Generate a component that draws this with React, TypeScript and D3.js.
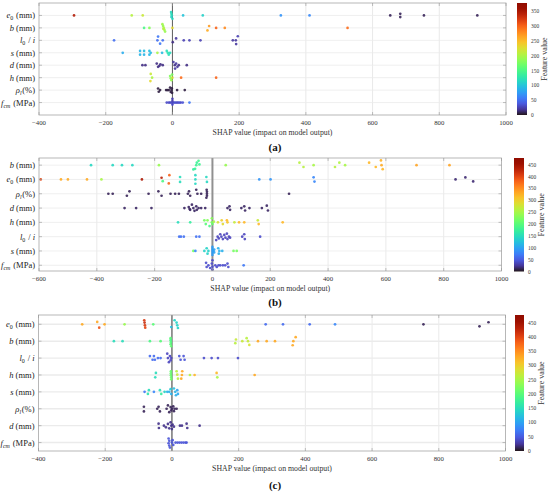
import React from "react";
import * as d3 from "d3";

type Pt = [number, number, number]; // [shap, feature value, vertical jitter in row units]

// ---- panel (a) ----
const aE0: Pt[] = [
  [-295, 345, 0], [-122, 205, 0], [-89, 215, 0],
  [-4, 115, -0.27], [-3, 120, -0.13], [-2, 118, 0], [-3, 112, 0.13], [0, 115, 0.27],
  [32, 100, 0], [91, 110, 0], [325, 70, 0], [411, 65, 0],
  [653, 8, 0], [683, 8, -0.13], [683, 8, 0.13], [754, 8, 0], [914, 8, 0],
];
const aB: Pt[] = [
  [-85, 150, 0], [-69, 180, 0],
  [-30, 195, -0.3], [-28, 190, -0.15], [-26, 200, 0], [-24, 195, 0.15], [-22, 190, 0.3], [-27, 205, 0.08],
  [0, 230, 0], [105, 260, 0.2], [110, 270, -0.15], [131, 300, 0], [157, 280, 0], [525, 295, 0],
];
const aL0i: Pt[] = [
  [-175, 50, 0], [-43, 55, -0.3], [-45, 50, 0], [-29, 50, 0], [-37, 55, 0.27],
  [1, 15, 0.15], [11, 20, -0.15], [34, 25, 0], [51, 25, 0], [84, 25, 0],
  [181, 20, 0], [190, 20, 0], [196, 25, -0.33], [191, 20, 0.3],
];
const aS: Pt[] = [
  [-149, 85, 0], [-97, 90, -0.15], [-97, 90, 0.15], [-85, 95, -0.15], [-85, 90, 0.15],
  [-69, 95, -0.15], [-65, 95, 0], [-69, 90, 0.15], [-45, 200, 0], [-31, 95, 0],
  [-17, 120, -0.15], [-14, 125, 0], [-11, 120, 0.15], [-7, 118, 0],
];
const aD: Pt[] = [
  [-90, 15, 0], [-81, 15, 0], [-47, 15, -0.13], [-43, 15, 0.13], [-36, 15, -0.08], [-39, 15, 0.05],
  [-29, 15, 0], [3, 20, -0.25], [7, 15, 0], [11, 20, -0.13], [15, 20, 0.13], [19, 15, 0],
  [8, 20, 0.27], [43, 15, 0],
];
const aH: Pt[] = [
  [-65, 215, -0.3], [-61, 200, 0], [-66, 230, 0.27],
  [-7, 180, -0.13], [-5, 185, 0.05], [-3, 190, 0.2], [-1, 175, -0.25], [0, 220, 0],
  [26, 295, 0], [131, 300, 0],
];
const aRho: Pt[] = [
  [-43, 5, -0.13], [-37, 5, 0], [-41, 5, 0.13], [-19, 5, 0], [-15, 5, 0], [-11, 5, 0],
  [-7, 5, -0.2], [-5, 5, 0.15], [-3, 5, 0], [-2, 5, -0.15], [-1, 5, 0.22], [14, 5, 0], [37, 5, 0],
];
const aFcm: Pt[] = [
  [-17, 30, 0], [-11, 30, 0], [-7, 30, 0], [-3, 30, 0], [1, 30, 0], [5, 30, 0], [9, 35, 0],
  [13, 30, 0], [17, 30, 0], [21, 35, 0], [25, 30, 0], [31, 35, 0],
  [0, 25, -0.3], [0, 25, -0.13], [0, 30, 0.16], [51, 55, 0],
];

// ---- panel (b) ----
const bB: Pt[] = [
  [-420, 145, 0], [-345, 145, 0], [-313, 145, 0], [-277, 145, 0], [-185, 240, 0],
  [-66, 170, 0.3], [-60, 175, 0.26], [-56, 180, 0], [-54, 175, -0.17], [-48, 185, -0.3], [-45, 180, -0.05],
  [46, 240, 0], [301, 260, -0.17], [315, 260, 0.13], [350, 250, 0], [424, 260, 0.13], [439, 255, -0.17],
  [459, 250, 0], [542, 320, -0.17], [565, 320, 0.13], [583, 325, -0.33], [585, 330, 0], [589, 320, 0.28],
  [706, 335, 0], [820, 335, 0],
];
const bE0: Pt[] = [
  [-594, 400, 0], [-524, 330, 0], [-500, 330, 0], [-434, 330, 0], [-384, 250, 0],
  [-244, 440, 0], [-176, 430, -0.12], [-172, 190, 0.12], [-149, 380, -0.3], [-151, 380, 0.28],
  [-112, 150, -0.17], [-112, 150, 0.17], [-59, 145, -0.3], [-59, 145, 0], [-59, 145, 0.3],
  [-21, 145, -0.17], [-19, 145, 0.17], [162, 90, 0], [201, 90, 0], [350, 80, -0.15], [353, 80, 0.15],
  [841, 15, 0], [875, 15, -0.14], [902, 15, 0.14],
];
const bRho: Pt[] = [
  [-360, 10, 0], [-345, 10, 0], [-287, 10, -0.17], [-296, 10, 0.14], [-221, 10, 0], [-187, 10, -0.17],
  [-176, 10, 0.14], [-145, 10, 0], [-129, 10, 0], [-116, 10, 0], [-85, 10, 0], [-81, 10, -0.17],
  [-77, 10, 0.14], [-56, 10, -0.28], [-52, 10, 0], [-39, 10, 0], [-20, 10, -0.28], [-19, 10, -0.14],
  [-19, 10, 0], [-19, 10, 0.14], [-21, 10, 0.28], [265, 10, 0],
];
const bD: Pt[] = [
  [-304, 12, 0], [-264, 12, 0], [-211, 12, 0], [-97, 12, 0], [-82, 12, -0.07], [-77, 12, 0.12],
  [-71, 12, -0.24], [-66, 12, 0], [-62, 12, 0.19], [-56, 12, -0.12], [-54, 12, 0.12], [-48, 12, 0],
  [-79, 12, 0.07], [-39, 12, 0], [-25, 12, 0], [52, 12, 0], [59, 12, -0.12], [61, 12, 0.12],
  [100, 12, 0], [110, 12, -0.12], [113, 12, 0.17], [128, 12, 0], [171, 12, 0], [188, 12, -0.17], [192, 12, 0.17],
];
const bH: Pt[] = [
  [-119, 150, 0], [-77, 170, 0], [-28, 220, -0.14], [-17, 230, -0.14], [-23, 200, 0.12], [-10, 190, 0.26],
  [-2, 230, -0.28], [-2, 220, 0], [0, 210, 0.12], [5, 250, -0.05], [19, 280, 0], [32, 300, -0.14],
  [36, 290, 0.12], [50, 320, -0.14], [52, 310, 0], [76, 270, 0], [92, 320, 0], [110, 320, 0],
  [157, 270, -0.14], [160, 320, 0.12], [243, 320, 0],
];
const bL0i: Pt[] = [
  [-115, 65, 0], [-109, 65, 0], [-99, 65, 0], [-56, 65, 0], [-45, 65, 0],
  [13, 35, 0.24], [18, 35, 0], [22, 35, 0.12], [27, 35, -0.17], [31, 35, 0], [36, 35, 0.17],
  [41, 35, -0.12], [45, 35, 0.07], [50, 35, -0.21], [52, 35, 0.17], [57, 35, 0], [61, 35, 0.07],
  [103, 35, 0], [110, 35, -0.17], [112, 35, 0.17], [165, 40, 0],
];
const bS: Pt[] = [
  [-66, 220, 0], [-59, 80, 0], [-28, 140, 0], [-20, 140, -0.19], [-17, 140, 0.19], [-14, 140, 0],
  [0, 95, -0.28], [0, 95, -0.14], [0, 95, 0], [0, 95, 0.14], [0, 95, 0.28], [3, 95, 0],
  [6, 100, -0.1], [6, 100, 0.1], [20, 110, -0.19], [24, 110, 0], [22, 110, 0.19], [34, 110, 0],
  [73, 220, 0], [84, 220, 0],
];
const bFcm: Pt[] = [
  [-22, 40, -0.17], [-20, 40, 0.12], [-14, 40, 0], [-8, 40, 0.19], [-2, 40, -0.12], [0, 40, -0.35],
  [0, 40, 0.1], [0, 40, 0.3], [10, 40, 0], [15, 40, 0.12], [21, 40, 0], [27, 40, 0], [36, 40, 0],
  [44, 40, 0], [52, 40, -0.12], [55, 40, 0.12], [108, 70, 0],
];

// ---- panel (c) ----
const cE0: Pt[] = [
  [-269, 330, 0], [-224, 330, -0.14], [-218, 390, 0.2], [-202, 330, 0], [-142, 240, 0],
  [-83, 410, -0.24], [-82, 420, -0.1], [-81, 410, 0.06], [-80, 400, 0.2], [-56, 200, 0],
  [-2, 120, 0.16], [8, 140, -0.24], [14, 140, -0.1], [16, 140, 0.06], [18, 140, 0.22],
  [281, 60, 0], [333, 60, 0], [413, 60, 0], [489, 80, 0], [754, 10, 0], [922, 10, 0.12], [949, 10, -0.12],
];
const cB: Pt[] = [
  [-174, 150, 0], [-148, 150, 0], [-66, 190, 0], [-34, 200, 0],
  [-4, 200, -0.18], [-4, 190, -0.06], [-3, 195, 0.06], [-4, 200, 0.18], [-2, 205, 0.3],
  [192, 270, -0.1], [190, 260, 0.12], [211, 270, 0], [224, 260, -0.18], [228, 270, 0], [232, 280, 0.22],
  [258, 330, 0], [284, 330, 0], [309, 330, 0], [362, 330, 0.24], [364, 330, 0], [371, 330, -0.24],
];
const cL0i: Pt[] = [
  [-66, 60, -0.12], [-58, 60, 0.1], [-54, 60, -0.12], [-51, 60, 0.1], [-42, 60, 0], [-34, 60, 0],
  [-14, 35, -0.26], [-12, 35, 0], [-9, 35, 0.24], [-6, 35, -0.12], [-4, 35, 0.14], [-2, 35, 0],
  [22, 45, -0.12], [26, 45, 0.1], [35, 45, -0.12], [38, 45, 0.1],
  [96, 40, 0], [119, 40, 0], [138, 40, 0], [198, 40, 0],
];
const cH: Pt[] = [
  [-48, 150, -0.12], [-50, 150, 0.14], [-3, 210, -0.22], [-3, 210, -0.1], [-3, 210, 0.02],
  [-2, 210, 0.14], [-2, 215, 0.26], [14, 260, -0.22], [16, 270, -0.02], [18, 260, 0.22],
  [30, 330, 0], [28, 330, 0.22], [31, 330, -0.22], [54, 260, 0], [68, 320, 0],
  [134, 320, -0.12], [136, 250, 0.14], [248, 330, 0],
];
const cS: Pt[] = [
  [-82, 70, 0], [-72, 160, 0.12], [-69, 150, -0.1], [-54, 80, 0], [-36, 150, -0.1], [-32, 170, 0.12],
  [-22, 140, 0], [-14, 110, 0], [-8, 110, 0], [-4, 130, -0.16], [-2, 110, 0.12], [6, 120, -0.2],
  [10, 115, 0], [12, 110, 0.2], [16, 100, -0.1], [18, 105, 0.12],
];
const cRho: Pt[] = [
  [-84, 10, -0.12], [-84, 10, 0.16], [-44, 10, 0], [-40, 10, -0.12], [-36, 10, 0.16],
  [-16, 10, 0], [-12, 10, -0.2], [-8, 10, 0.2], [-4, 10, -0.1], [-2, 10, 0.1], [0, 10, 0],
  [4, 10, -0.14], [6, 10, 0.14], [8, 10, 0], [14, 10, 0],
];
const cD: Pt[] = [
  [-40, 20, -0.12], [-39, 20, 0.14], [-24, 20, 0], [-18, 20, 0.1], [-12, 20, -0.1], [-8, 20, 0.16],
  [-4, 20, -0.2], [-2, 20, 0], [0, 20, 0.2], [2, 20, -0.06], [6, 20, 0.06], [24, 20, 0],
  [30, 20, 0], [44, 20, -0.12], [46, 20, 0.14], [83, 20, 0],
];
const cFcm: Pt[] = [
  [-10, 45, -0.24], [-8, 45, -0.1], [-10, 45, 0.04], [-8, 45, 0.18], [-6, 45, 0.3], [0, 45, 0],
  [2, 45, -0.14], [4, 45, 0.14], [11, 45, 0], [17, 45, 0], [23, 45, 0], [29, 45, 0],
  [35, 45, 0], [41, 45, 0], [44, 45, 0],
];

const rowsA = ["e0", "b", "l0i", "s", "d", "h", "rho", "fcm"];
const rowsB = ["b", "e0", "rho", "d", "h", "l0i", "s", "fcm"];
const rowsC = ["e0", "b", "l0i", "h", "s", "rho", "d", "fcm"];
const ticksA = [-400, -200, 0, 200, 400, 600, 800, 1000];
const ticksB = [-600, -400, -200, 0, 200, 400, 600, 800, 1000];
const cbTicksA = [0, 50, 100, 150, 200, 250, 300, 350];
const cbTicksBC = [0, 50, 100, 150, 200, 250, 300, 350, 400, 450];

const FONT = "'Liberation Serif', 'DejaVu Serif', serif";

const Sub = ({ t, it }: { t: string; it?: boolean }) => (
  <>
    <tspan fontSize="0.7em" dy={2} fontStyle={it ? "italic" : "normal"}>{t}</tspan>
    <tspan dy={-2}>{"\u200a"}</tspan>
  </>
);

function featureLabel(k: string) {
  const I = (t: string) => <tspan fontStyle="italic">{t}</tspan>;
  switch (k) {
    case "e0": return <>{I("e")}<Sub t="0" /> (mm)</>;
    case "b": return <>{I("b")} (mm)</>;
    case "l0i": return <>{I("l")}<Sub t="0" /> / {I("i")}</>;
    case "s": return <>{I("s")} (mm)</>;
    case "d": return <>{I("d")} (mm)</>;
    case "h": return <>{I("h")} (mm)</>;
    case "rho": return <>{I("ρ")}<Sub t="l" it />(%)</>;
    default: return <>{I("f")}<Sub t="cm" it /> (MPa)</>;
  }
}

interface PanelProps {
  id: string;
  data: Record<string, Pt[]>;
  rows: string[];
  box: [number, number, number, number]; // left, right, top, bottom
  xDomain: [number, number];
  xTicks: number[];
  yDomain: [number, number];
  cb: [number, number, number, number];
  cbMax: number;
  cbTicks: number[];
  zeroW: number;
  zeroC: string;
  rowGridW: number;
  label: string;
  labelY: number;
}

const Panel: React.FC<PanelProps> = (p) => {
  const [l, r, t, b] = p.box;
  const x = d3.scaleLinear().domain(p.xDomain).range([l, r]);
  const y = d3.scaleLinear().domain(p.yDomain).range([t, b]);
  const [cl, cr, ct, cbm] = p.cb;
  const cy = d3.scaleLinear().domain([0, p.cbMax]).range([cbm, ct]);
  const color = (v: number) => d3.interpolateTurbo(Math.min(1, v / p.cbMax));
  const gid = "grad" + p.id;
  const stops = d3.range(0, 1.0001, 0.05);
  return (
    <g>
      <defs>
        <linearGradient id={gid} x1="0" y1="1" x2="0" y2="0">
          {stops.map((s) => (
            <stop key={s} offset={s} stopColor={d3.interpolateTurbo(s)} />
          ))}
        </linearGradient>
      </defs>
      <rect x={l} y={t} width={r - l} height={b - t} fill="#fff" />
      {p.xTicks.slice(1, -1).map((v) => (
        <line key={"gx" + v} x1={x(v)} x2={x(v)} y1={t} y2={b} stroke="#e3e3e3" strokeWidth={0.8} />
      ))}
      {p.rows.map((k, i) => (
        <line key={"gy" + k} x1={l} x2={r} y1={y(i + 1)} y2={y(i + 1)} stroke="#ebebeb" strokeWidth={p.rowGridW} />
      ))}
      <line x1={x(0)} x2={x(0)} y1={t} y2={b} stroke={p.zeroC} strokeWidth={p.zeroW} />
      {p.rows.map((k, i) =>
        p.data[k].map((d, j) => (
          <circle key={k + j} cx={x(d[0])} cy={y(i + 1 + d[2])} r={1.35} fill={color(d[1])} opacity={0.9} />
        ))
      )}
      <rect x={l} y={t} width={r - l} height={b - t} fill="none" stroke="#a6a6a6" strokeWidth={0.8} />
      {p.xTicks.map((v) => (
        <g key={"tx" + v}>
          <line x1={x(v)} x2={x(v)} y1={b} y2={b - 3} stroke="#999" strokeWidth={0.6} />
          <line x1={x(v)} x2={x(v)} y1={t} y2={t + 3} stroke="#999" strokeWidth={0.6} />
          <text x={x(v)} y={b + 10} fontSize={6.8} textAnchor="middle" fill="#333">
            {d3.format("")(v).replace("-", "\u2212")}
          </text>
        </g>
      ))}
      {p.rows.map((k, i) => (
        <g key={"ty" + k}>
          <line x1={l} x2={l + 3} y1={y(i + 1)} y2={y(i + 1)} stroke="#999" strokeWidth={0.6} />
          <line x1={r} x2={r - 3} y1={y(i + 1)} y2={y(i + 1)} stroke="#999" strokeWidth={0.6} />
          <text x={l - 4} y={y(i + 1) + 3} fontSize={8.5} textAnchor="end" fill="#222">
            {featureLabel(k)}
          </text>
        </g>
      ))}
      <text x={(l + r) / 2} y={b + 20} fontSize={7.8} textAnchor="middle" fill="#333">
        SHAP value (impact on model output)
      </text>
      <rect x={cl} y={ct} width={cr - cl} height={cbm - ct} fill={`url(#${gid})`} />
      {p.cbTicks.map((v) => (
        <text key={"cb" + v} x={cr + 4} y={cy(v) + 2} fontSize={5.4} fill="#333">
          {v}
        </text>
      ))}
      <text
        transform={`translate(${cr + 20},${(ct + cbm) / 2}) rotate(-90)`}
        fontSize={8}
        textAnchor="middle"
        fill="#333"
      >
        Feature value
      </text>
      <text x={275} y={p.labelY} fontSize={11} fontWeight="bold" textAnchor="middle" fill="#111">
        {p.label}
      </text>
    </g>
  );
};

export default function App() {
  const dataA = { e0: aE0, b: aB, l0i: aL0i, s: aS, d: aD, h: aH, rho: aRho, fcm: aFcm };
  const dataB = { e0: bE0, b: bB, l0i: bL0i, s: bS, d: bD, h: bH, rho: bRho, fcm: bFcm };
  const dataC = { e0: cE0, b: cB, l0i: cL0i, s: cS, d: cD, h: cH, rho: cRho, fcm: cFcm };
  return (
    <div style={{ position: "absolute", left: 0, top: 0 }}>
      <svg width={550} height={494} style={{ display: "block", fontFamily: FONT, background: "#fff" }}>
        <Panel
          id="a" data={dataA} rows={rowsA} box={[39, 506, 3, 115]} xDomain={[-400, 1000]} xTicks={ticksA}
          yDomain={[0, 9]} cb={[517, 527, 3, 115]} cbMax={378} cbTicks={cbTicksA}
          zeroW={1} zeroC="#5e5e5e" rowGridW={0.8} label="(a)" labelY={151}
        />
        <Panel
          id="b" data={dataB} rows={rowsB} box={[39, 501.5, 158, 271]} xDomain={[-600, 1000]} xTicks={ticksB}
          yDomain={[0.5, 8.4]} cb={[514, 524, 158, 271.5]} cbMax={478} cbTicks={cbTicksBC}
          zeroW={2} zeroC="#909090" rowGridW={0.8} label="(b)" labelY={305.5}
        />
        <Panel
          id="c" data={dataC} rows={rowsC} box={[38.5, 505.5, 315, 451]} xDomain={[-400, 1000]} xTicks={ticksA}
          yDomain={[0.45, 8.5]} cb={[515, 524, 315, 451]} cbMax={477} cbTicks={cbTicksBC}
          zeroW={1.4} zeroC="#707070" rowGridW={1.4} label="(c)" labelY={489}
        />
      </svg>
    </div>
  );
}
